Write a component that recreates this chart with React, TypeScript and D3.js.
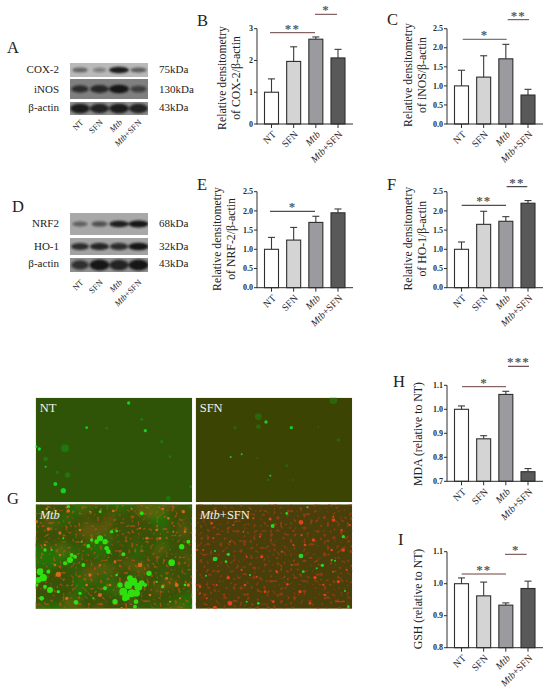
import React from "react";
import * as d3 from "d3";

const categories = ["NT", "SFN", "Mtb", "Mtb+SFN"];
const barFills = ["#ffffff", "#d4d4d4", "#9b9b9f", "#595959"];

const cox2Mean = [1.0, 1.97, 2.67, 2.08];
const cox2Top = [1.42, 2.43, 2.74, 2.35];
const inosMean = [1.0, 1.23, 1.71, 0.76];
const inosTop = [1.41, 1.79, 2.09, 0.91];
const nrf2Mean = [1.0, 1.24, 1.7, 1.95];
const nrf2Top = [1.31, 1.57, 1.86, 2.05];
const ho1Mean = [1.0, 1.65, 1.73, 2.2];
const ho1Top = [1.19, 1.99, 1.85, 2.27];
const mdaMean = [1.0, 0.877, 1.062, 0.74];
const mdaTop = [1.014, 0.89, 1.075, 0.753];
const gshMean = [1.0, 0.962, 0.933, 0.985];
const gshTop = [1.018, 1.005, 0.94, 1.008];

const ticks3 = ["0", "1", "2", "3"];
const ticks25 = ["0.0", "0.5", "1.0", "1.5", "2.0", "2.5"];
const ticksMda = ["0.7", "0.8", "0.9", "1.0", "1.1"];
const ticksGsh = ["0.8", "0.9", "1.0", "1.1"];

// band strength per lane, 0..1
const bandCox2 = [0.55, 0.38, 1, 0.6];
const bandInos = [0.75, 0.85, 1, 0.6];
const bandActinA = [0.95, 0.9, 0.95, 0.9];
const bandNrf2 = [0.5, 0.6, 0.95, 1];
const bandHo1 = [0.8, 0.9, 0.85, 1];
const bandActinD = [0.75, 1, 0.9, 1];

// micrograph spots: [x, y, radius] in a 3x crop frame
type Spot = [number, number, number];
const ntGreen: Spot[] = [[386,54,5],[260,128,4],[118,192,5],[137,245,3],[166,297,6],[190,317,8],[436,137,5],[108,185,4]];
const ntDim: Spot[] = [[425,103,5],[137,222,7],[195,190,12],[203,270,8],[505,340,7],[572,305,5],[172,262,5],[485,170,5],[510,215,4],[320,130,4]];
const sfnGreen: Spot[] = [[798,111,5],[874,128,5],[692,216,3],[811,272,3],[725,208,3]];
const sfnDim: Spot[] = [[775,125,7],[705,128,5],[772,218,3],[805,285,4],[860,242,4],[1000,45,12],[1015,165,5],[775,95,10],[955,127,3],[880,285,3]];
const mtbGreen: Spot[] = [
  [370,620,12],[385,600,12],[400,590,12],[415,605,12],[395,625,12],[380,635,10],[410,625,10],[425,595,9],[360,600,8],[390,580,9],[435,600,6],[345,650,8],[408,650,7],[405,665,6],[375,640,9],
  [300,460,9],[315,470,8],[290,470,7],[320,490,7],[325,500,7],[265,483,6],[335,440,5],[350,438,4],[370,508,6],[275,465,5],
  [210,525,9],[195,535,6],[225,515,6],[250,540,6],[215,510,6],
  [120,560,10],[130,578,11],[115,585,9],[150,615,9],[125,640,7],[145,560,6],[228,652,7],[240,625,5],[175,620,5],[110,600,5],[135,605,6],
  [515,533,10],[545,485,8],[565,470,6],[447,565,8],[315,610,6],[488,605,5],[135,495,5],[155,495,3],[205,365,5],[425,385,6],[190,460,3],[555,600,4],[280,640,3],[350,570,4],[470,590,3],[300,380,4],[245,470,3],[510,650,3]
];
const mtbRed: Spot[] = [
  [205,378,5],[145,432,5],[110,410,4],[175,568,8],[420,540,7],[488,372,4],[550,380,5],[470,435,4],[135,480,4],[180,445,4],[530,600,6],[565,600,5],[300,630,6],[340,378,4],[240,435,4],[555,440,4],[480,460,4],
  [140,372,4],[270,380,3],[395,372,3],[440,460,4],[505,400,4],[520,440,3],[180,510,4],[165,540,4],[270,570,5],[330,600,4],[450,630,4],[500,580,4],[200,640,5],[365,670,4],[300,540,3],[345,530,4],[160,400,3],[420,430,3],[540,640,3],[260,600,4],[105,480,3]
];
const sfn2Green: Spot[] = [[818,423,6],[903,513,7],[860,385,4],[922,367,3],[1030,455,5],[645,522,7],[685,508,5],[678,530,4],[967,541,5],[1005,527,3],[995,525,3],[950,550,3],[910,560,4],[618,572,3],[645,498,3],[775,655,4],[1045,665,4],[1035,618,3],[740,650,3],[750,570,3]];
const sfn2Red: Spot[] = [[635,415,4],[690,655,7],[645,668,6],[600,605,4],[600,625,3],[685,578,5],[735,600,4],[740,515,3],[785,515,5],[810,402,4],[903,412,7],[940,465,5],[915,480,4],[1000,405,5],[1030,495,5],[995,495,4],[945,578,5],[1015,590,5],[1040,555,3],[795,620,4],[862,598,4],[900,620,5],[975,630,4],[880,480,3],[845,500,3],[780,455,3],[730,440,3],[690,470,3],[610,495,3],[590,495,3],[640,460,3],[1000,395,3],[1050,420,3],[830,560,4],[700,420,3],[760,400,3],[650,600,3],[820,650,4],[930,655,4],[970,600,3],[875,540,3],[1025,435,3],[725,555,3],[620,640,3],[1000,560,3],[905,450,3],[770,575,3]];

const SERIF = "'Liberation Serif','Times New Roman',serif";
const crop = d3.scaleLinear().domain([0, 3]).range([0, 1]);

function MtbText({ label }: { label: string }) {
  if (label === "Mtb") return <tspan fontStyle="italic">Mtb</tspan>;
  if (label === "Mtb+SFN") return <><tspan fontStyle="italic">Mtb</tspan>+SFN</>;
  return <>{label}</>;
}

type Bracket = { from: number; to: number; y: number; stars: string; color: string };

function BarPanel(props: {
  x: number; base: number; top: number; min: number; max: number; ticks: string[];
  mean: number[]; upper: number[]; titles: string[]; titleX: number[]; titleY: number; brackets: Bracket[];
}) {
  const { x, base, top, min, max, ticks, mean, upper, titles, titleX, titleY, brackets } = props;
  const ys = d3.scaleLinear().domain([min, max]).range([base, top]);
  const xs = d3.scalePoint<string>().domain(categories).range([x + 14.5, x + 81]);
  const bw = 14;
  return (
    <g>
      {mean.map((v, i) => {
        const cx = xs(categories[i]) as number;
        return (
          <g key={i}>
            <line x1={cx} x2={cx} y1={ys(v)} y2={ys(upper[i])} stroke="#3a3a3a" strokeWidth={1.1} />
            <line x1={cx - 3.5} x2={cx + 3.5} y1={ys(upper[i])} y2={ys(upper[i])} stroke="#3a3a3a" strokeWidth={1.1} />
            <rect x={cx - bw / 2} y={ys(v)} width={bw} height={base - ys(v)} fill={barFills[i]} stroke="#2e2e2e" strokeWidth={1.1} />
            <line x1={cx} x2={cx} y1={base} y2={base + 4} stroke="#2e2e2e" strokeWidth={1} />
            <text transform={`translate(${cx + 5},${base + 11}) rotate(-45)`} textAnchor="end" fontFamily={SERIF} fontSize={10} fill="#2a2a2a">
              <MtbText label={categories[i]} />
            </text>
          </g>
        );
      })}
      <line x1={x - 0.5} x2={x + 96} y1={base} y2={base} stroke="#2e2e2e" strokeWidth={1} />
      <line x1={x} x2={x} y1={top} y2={base} stroke="#2e2e2e" strokeWidth={1} />
      {ticks.map((t) => (
        <g key={t}>
          <line x1={x - 3} x2={x} y1={ys(+t)} y2={ys(+t)} stroke="#2e2e2e" strokeWidth={1} />
          <text x={x - 4} y={ys(+t) + 2.7} textAnchor="end" fontFamily={SERIF} fontWeight="bold" fontSize={8} fill="#2a2a2a">{t}</text>
        </g>
      ))}
      {titles.map((t, i) => (
        <text key={t} transform={`translate(${titleX[i]},${titleY}) rotate(-90)`} textAnchor="middle" fontFamily={SERIF} fontSize={11.8} fill="#222">{t}</text>
      ))}
      {brackets.map((b, i) => (
        <g key={i}>
          <line x1={b.from} x2={b.to} y1={b.y} y2={b.y} stroke={b.color} strokeWidth={1} />
          <text x={(b.from + b.to) / 2} y={b.y} textAnchor="middle" fontFamily={SERIF} fontWeight="bold" fontSize={13} letterSpacing={1.2} fill="#5a5a5a">{b.stars}</text>
        </g>
      ))}
    </g>
  );
}

function Blot({ y, h, bg, bands, bandH, dark }: { y: number; h: number; bg: string; bands: number[]; bandH: number; dark: string }) {
  const xs = d3.scalePoint<string>().domain(categories).range([80, 138.5]);
  return (
    <g>
      <rect x={70} y={y} width={78} height={h} fill={bg} />
      <g filter="url(#blotBlur)" clipPath={`url(#clipBlot${y})`}>
        {bands.map((b, i) => (
          <ellipse key={i} cx={xs(categories[i])} cy={y + h / 2} rx={5 + 5 * b} ry={bandH * (0.5 + 0.5 * b)} fill={dark} opacity={b} />
        ))}
      </g>
      <clipPath id={`clipBlot${y}`}><rect x={70} y={y} width={78} height={h} /></clipPath>
    </g>
  );
}

function BlotLabels({ names, mass, base, rotY }: { names: string[]; mass: string[]; base: number[]; rotY: number }) {
  const xs = d3.scalePoint<string>().domain(categories).range([84, 142]);
  return (
    <g fontFamily={SERIF} fontSize={11} fill="#222">
      {names.map((n, i) => <text key={n} x={59} y={base[i]} textAnchor="end">{n}</text>)}
      {mass.map((m, i) => <text key={i} x={159} y={base[i]}>{m}</text>)}
      {categories.map((c) => (
        <text key={c} transform={`translate(${xs(c)},${rotY}) rotate(-45)`} textAnchor="end" fontSize={8.5}><MtbText label={c} /></text>
      ))}
    </g>
  );
}

function Dots({ spots, ox, oy, fill, opacity = 1 }: { spots: Spot[]; ox: number; oy: number; fill: string; opacity?: number }) {
  return (
    <g fill={fill} opacity={opacity} filter="url(#spotBlur)">
      {spots.map((s, i) => <circle key={i} cx={ox + crop(s[0])} cy={oy + crop(s[1])} r={crop(s[2])} />)}
    </g>
  );
}

function Micro({ x, y, bg, id, speckle, label, children }: { x: number; y: number; bg: string; id: string; speckle: string[]; label: string; children?: React.ReactNode }) {
  const w = 156.5, h = 104.5;
  return (
    <g>
      <clipPath id={id}><rect x={x} y={y} width={w} height={h} /></clipPath>
      <g clipPath={`url(#${id})`}>
        <rect x={x} y={y} width={w} height={h} fill={bg} />
        {speckle.map((f) => <rect key={f} x={x - 10} y={y - 10} width={w + 20} height={h + 20} filter={`url(#${f})`} />)}
        {children}
      </g>
      <text x={x + 4} y={y + 14.5} fontFamily={SERIF} fontSize={12.5} fill="#f2f2f2"><MtbText label={label} /></text>
    </g>
  );
}

function Speckle({ id, freq, seed, color, slope, cut, opacity, blur }: { id: string; freq: number; seed: number; color: string; slope: number; cut: number; opacity: number; blur: number }) {
  return (
    <filter id={id} x="0" y="0" width="1" height="1" colorInterpolationFilters="sRGB">
      <feTurbulence type="fractalNoise" baseFrequency={freq} numOctaves={1} seed={seed} result="n" />
      <feColorMatrix in="n" type="matrix" values={`0 0 0 0 0  0 0 0 0 0  0 0 0 0 0  ${slope} 0 0 0 ${cut}`} result="a" />
      <feGaussianBlur in="a" stdDeviation={blur} result="b" />
      <feFlood floodColor={color} floodOpacity={opacity} />
      <feComposite in2="b" operator="in" />
    </filter>
  );
}

export default function App() {
  const brown = "#6a3f3f";
  return (
    <svg width={550} height={696} viewBox="0 0 550 696" style={{ position: "absolute", left: 0, top: 0, background: "#fff" }}>
      <defs>
        <filter id="blotBlur" x="-10%" y="-30%" width="120%" height="160%"><feGaussianBlur stdDeviation={1.1} /></filter>
        <filter id="spotBlur" x="-5%" y="-5%" width="110%" height="110%"><feGaussianBlur stdDeviation={0.55} /></filter>
        <Speckle id="noiseRedA" freq={0.32} seed={3} color="#c4501a" slope={8} cut={-4.7} opacity={0.7} blur={0.6} />
        <Speckle id="noiseRedB" freq={0.3} seed={8} color="#a83c12" slope={8} cut={-4.6} opacity={0.7} blur={0.6} />
        <Speckle id="noiseGreen" freq={0.035} seed={5} color="#1f7a08" slope={5} cut={-2.4} opacity={0.8} blur={2} />
        <Speckle id="noiseOlive" freq={0.05} seed={11} color="#7a5c12" slope={5} cut={-2.6} opacity={0.55} blur={2} />
      </defs>

      {/* panel letters */}
      <g fontFamily={SERIF} fontSize={16.5} fill="#222">
        <text x={7} y={53}>A</text><text x={197} y={26}>B</text><text x={387} y={25}>C</text>
        <text x={12} y={212}>D</text><text x={197} y={190}>E</text><text x={387} y={190}>F</text>
        <text x={7} y={504}>G</text><text x={393} y={387}>H</text><text x={398} y={545}>I</text>
      </g>

      {/* western blots */}
      <Blot y={63} h={14} bg="#b9b9b9" bands={bandCox2} bandH={3.2} dark="#1c1c1c" />
      <Blot y={79} h={20} bg="#7f7f7f" bands={bandInos} bandH={4.2} dark="#161616" />
      <Blot y={102} h={13} bg="#8d8d8d" bands={bandActinA} bandH={5} dark="#141414" />
      <BlotLabels names={["COX-2", "iNOS", "β-actin"]} mass={["75kDa", "130kDa", "43kDa"]} base={[73, 93, 111]} rotY={123} />
      <Blot y={213} h={22} bg="#a8a8a8" bands={bandNrf2} bandH={3.4} dark="#141414" />
      <Blot y={238} h={17} bg="#a2a2a2" bands={bandHo1} bandH={3.8} dark="#141414" />
      <Blot y={258} h={14} bg="#8f8f8f" bands={bandActinD} bandH={5.4} dark="#141414" />
      <BlotLabels names={["NRF2", "HO-1", "β-actin"]} mass={["68kDa", "32kDa", "43kDa"]} base={[226.5, 250, 267]} rotY={283} />

      {/* bar panels */}
      <BarPanel x={257} base={124} top={28.7} min={0} max={3} ticks={ticks3} mean={cox2Mean} upper={cox2Top}
        titles={["Relative densitometry", "of COX-2/β-actin"]} titleX={[226, 240]} titleY={78}
        brackets={[{ from: 270, to: 315, y: 32.7, stars: "**", color: brown }, { from: 315, to: 337, y: 14.3, stars: "*", color: brown }]} />
      <BarPanel x={447} base={124} top={28.7} min={0} max={2.5} ticks={ticks25} mean={inosMean} upper={inosTop}
        titles={["Relative densitometry", "of iNOS/β-actin"]} titleX={[412, 426]} titleY={75}
        brackets={[{ from: 462.7, to: 506.7, y: 39.3, stars: "*", color: "#6b5050" }, { from: 507.7, to: 529, y: 19.7, stars: "**", color: brown }]} />
      <BarPanel x={257} base={287.7} top={191.7} min={0} max={2.5} ticks={ticks25} mean={nrf2Mean} upper={nrf2Top}
        titles={["Relative densitometry", "of NRF-2/β-actin"]} titleX={[221, 235]} titleY={239}
        brackets={[{ from: 270, to: 315, y: 211.3, stars: "*", color: "#222" }]} />
      <BarPanel x={447} base={287.7} top={191.7} min={0} max={2.5} ticks={ticks25} mean={ho1Mean} upper={ho1Top}
        titles={["Relative densitometry", "of HO-1/β-actin"]} titleX={[412, 426]} titleY={238.7}
        brackets={[{ from: 461.7, to: 506, y: 205.3, stars: "**", color: "#222" }, { from: 506.7, to: 527.3, y: 186.7, stars: "**", color: "#222" }]} />
      <BarPanel x={447} base={481.3} top={385.3} min={0.7} max={1.1} ticks={ticksMda} mean={mdaMean} upper={mdaTop}
        titles={["MDA (relative to NT)"]} titleX={[422]} titleY={434}
        brackets={[{ from: 462, to: 506, y: 386.7, stars: "*", color: brown }, { from: 508, to: 529, y: 366.3, stars: "***", color: "#4a2a2a" }]} />
      <BarPanel x={447} base={647.7} top={551.7} min={0.8} max={1.1} ticks={ticksGsh} mean={gshMean} upper={gshTop}
        titles={["GSH (relative to NT)"]} titleX={[422]} titleY={599}
        brackets={[{ from: 461.7, to: 506, y: 574, stars: "**", color: brown }, { from: 505, to: 526.7, y: 554.3, stars: "*", color: brown }]} />

      {/* fluorescence micrographs */}
      <Micro x={35.7} y={397.7} bg="#2f5408" id="mA" speckle={[]} label="NT">
        <Dots spots={ntDim} ox={0} oy={385} fill="#1f8010" opacity={0.75} />
        <Dots spots={ntGreen} ox={0} oy={385} fill="#12d024" />
      </Micro>
      <Micro x={195.7} y={397.7} bg="#3c4403" id="mB" speckle={[]} label="SFN">
        <Dots spots={sfnDim} ox={0} oy={385} fill="#2a7010" opacity={0.75} />
        <Dots spots={sfnGreen} ox={0} oy={385} fill="#12d024" />
      </Micro>
      <Micro x={35.7} y={504.3} bg="#3a5208" id="mC" speckle={["noiseGreen", "noiseOlive", "noiseRedA"]} label="Mtb">
        <Dots spots={mtbRed} ox={0} oy={385} fill="#d86a18" />
        <Dots spots={mtbGreen} ox={0} oy={385} fill="#2ee010" />
      </Micro>
      <Micro x={195.7} y={504.3} bg="#483f0a" id="mD" speckle={["noiseRedB"]} label="Mtb+SFN">
        <Dots spots={sfn2Red} ox={0} oy={385} fill="#e4401a" />
        <Dots spots={sfn2Green} ox={0} oy={385} fill="#22d828" />
        <line x1={crop(1005)} x2={crop(1035)} y1={385 + crop(650)} y2={385 + crop(650)} stroke="#e03030" strokeWidth={0.8} />
      </Micro>
    </svg>
  );
}
